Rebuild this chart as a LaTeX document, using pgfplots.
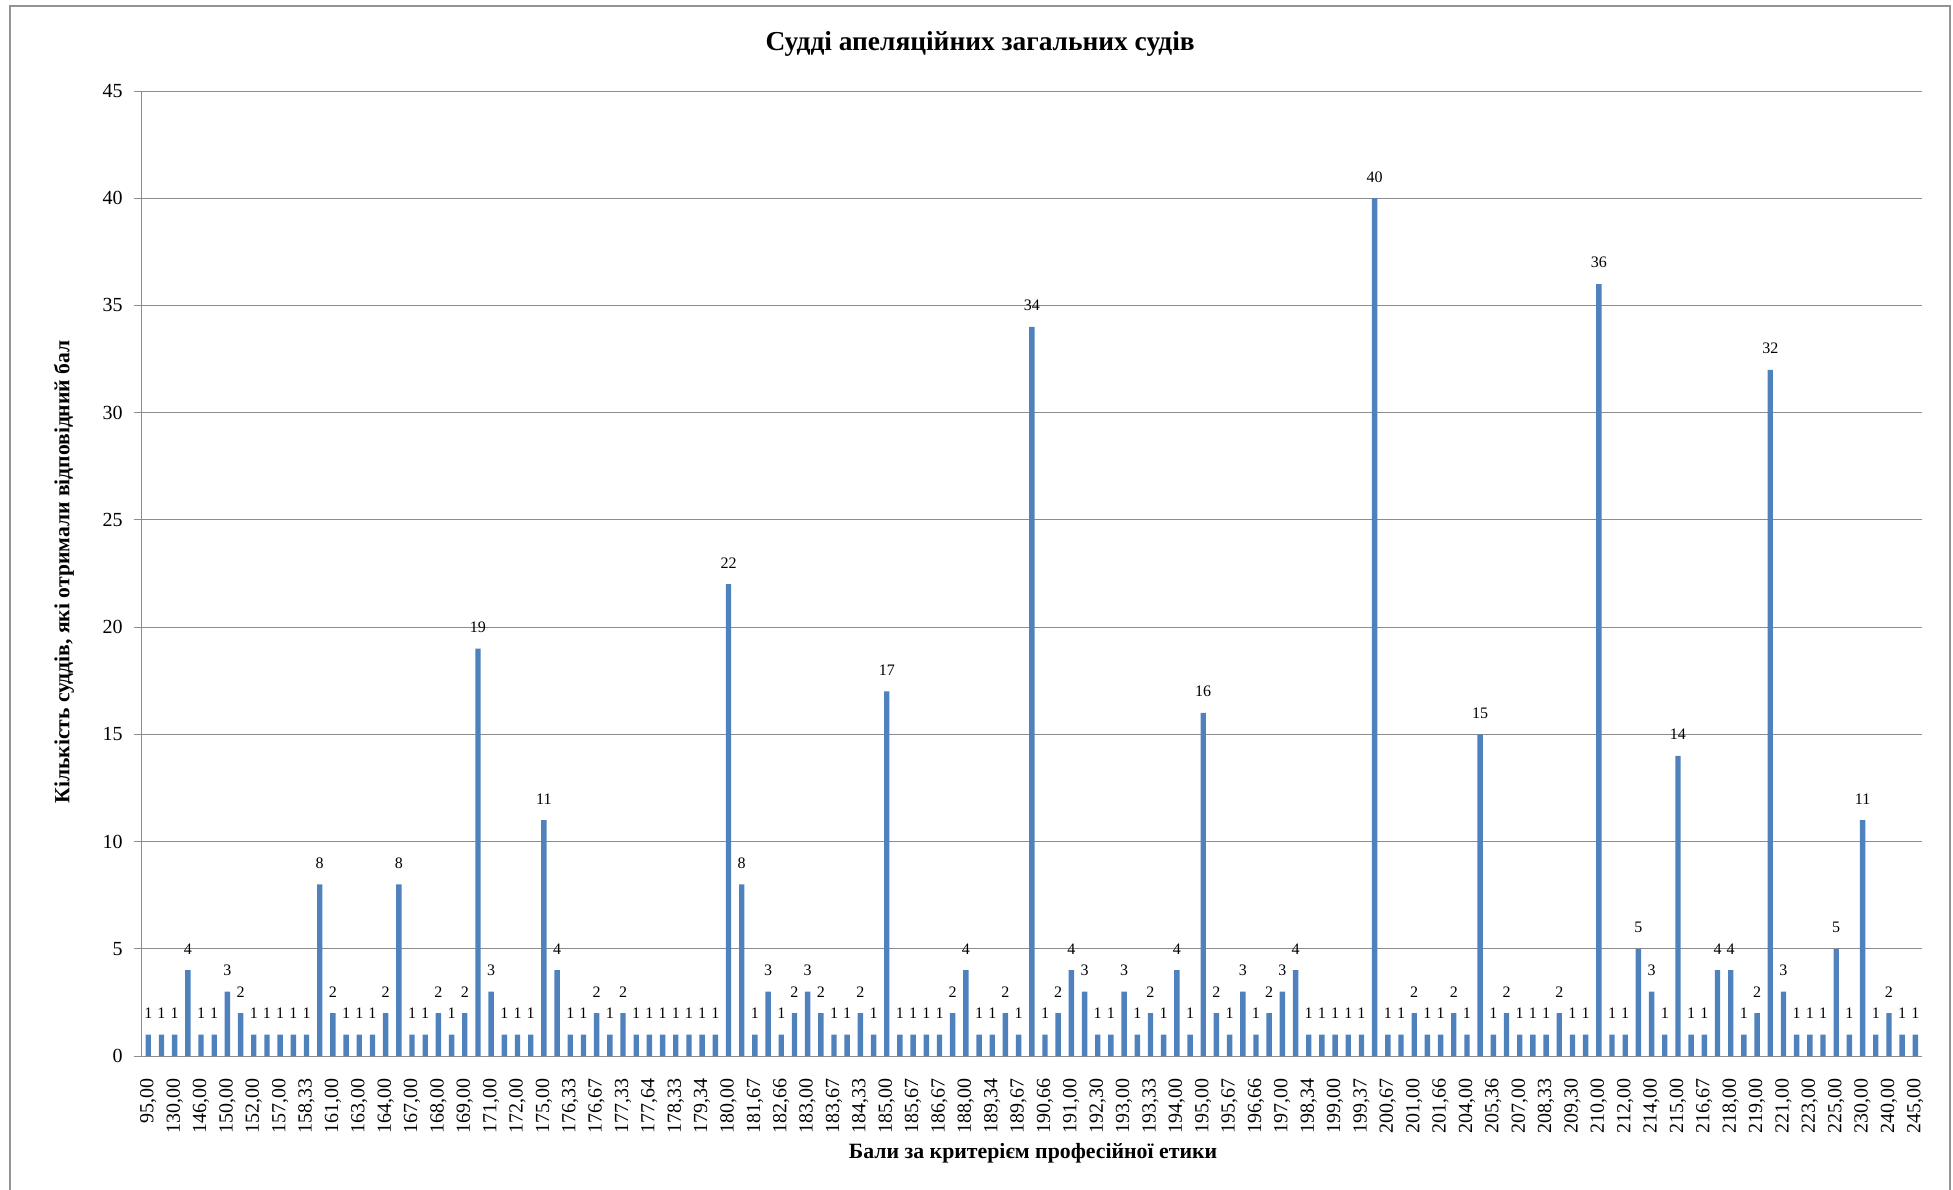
\documentclass[border=0pt]{standalone}
\usepackage{fontspec}
\setmainfont{Liberation Serif}
\usepackage{pgfplots}
\usepackage{pgfplotstable}
\pgfplotsset{compat=1.18}
\definecolor{barblue}{HTML}{4F81BD}
\definecolor{gridgray}{HTML}{8C8C8C}
\pgfplotstableread{
x y
1 1
2 1
3 1
4 4
5 1
6 1
7 3
8 2
9 1
10 1
11 1
12 1
13 1
14 8
15 2
16 1
17 1
18 1
19 2
20 8
21 1
22 1
23 2
24 1
25 2
26 19
27 3
28 1
29 1
30 1
31 11
32 4
33 1
34 1
35 2
36 1
37 2
38 1
39 1
40 1
41 1
42 1
43 1
44 1
45 22
46 8
47 1
48 3
49 1
50 2
51 3
52 2
53 1
54 1
55 2
56 1
57 17
58 1
59 1
60 1
61 1
62 2
63 4
64 1
65 1
66 2
67 1
68 34
69 1
70 2
71 4
72 3
73 1
74 1
75 3
76 1
77 2
78 1
79 4
80 1
81 16
82 2
83 1
84 3
85 1
86 2
87 3
88 4
89 1
90 1
91 1
92 1
93 1
94 40
95 1
96 1
97 2
98 1
99 1
100 2
101 1
102 15
103 1
104 2
105 1
106 1
107 1
108 2
109 1
110 1
111 36
112 1
113 1
114 5
115 3
116 1
117 14
118 1
119 1
120 4
121 4
122 1
123 2
124 32
125 3
126 1
127 1
128 1
129 5
130 1
131 11
132 1
133 2
134 1
135 1
}\data
\begin{document}
\begin{tikzpicture}
\path[use as bounding box] (0,0) rectangle (976.5pt,-594.5pt);
\draw[gray!85, line width=1.1pt] (5pt,-600pt) -- (5pt,-3pt) -- (975pt,-3pt) -- (975pt,-600pt);
\begin{axis}[
  scale only axis, width=890.1pt, height=482.5pt,
  at={(70.85pt,-528pt)}, anchor=south west,
  ymin=0, ymax=45, ytick={0,5,...,45},
  xmin=0.5, xmax=135.5,
  xtick={1,3,...,135},
  xticklabels={{95,00},{130,00},{146,00},{150,00},{152,00},{157,00},{158,33},{161,00},{163,00},{164,00},{167,00},{168,00},{169,00},{171,00},{172,00},{175,00},{176,33},{176,67},{177,33},{177,64},{178,33},{179,34},{180,00},{181,67},{182,66},{183,00},{183,67},{184,33},{185,00},{185,67},{186,67},{188,00},{189,34},{189,67},{190,66},{191,00},{192,30},{193,00},{193,33},{194,00},{195,00},{195,67},{196,66},{197,00},{198,34},{199,00},{199,37},{200,67},{201,00},{201,66},{204,00},{205,36},{207,00},{208,33},{209,30},{210,00},{212,00},{214,00},{215,00},{216,67},{218,00},{219,00},{221,00},{223,00},{225,00},{230,00},{240,00},{245,00}},
  ybar, bar width=2.7pt, bar shift=0pt,
  ymajorgrids, grid style={gridgray, line width=0.5pt},
  axis x line*=bottom, axis y line*=left,
  axis line style={gridgray, line width=0.5pt},
  ytick style={gridgray, line width=0.5pt},
  major tick length=4pt, tick align=outside,
  xtick style={draw=none},
  xticklabel shift=3.5pt,
  yticklabel shift=2pt,
  x tick label style={rotate=90, anchor=east, font=\fontsize{10}{12}\selectfont},
  y tick label style={font=\fontsize{10}{12}\selectfont},
  nodes near coords,
  every node near coord/.append style={font=\fontsize{8}{9}\selectfont, yshift=4.5pt, text=black},
  /pgf/number format/assume math mode=true,
  every axis title shift=0pt,
  title={Судді апеляційних загальних судів},
  title style={at={(axis description cs:0.471,1.0487)}, anchor=center, yshift=0pt, font=\bfseries\fontsize{13.7}{16}\selectfont},
  xlabel={Бали за критерієм професійної етики},
  xlabel style={at={(axis description cs:0.5007,-0.1005)}, anchor=center, font=\bfseries\fontsize{10.9}{13}\selectfont},
  ylabel={Кількість суддів, які отримали відповідний бал},
  ylabel style={at={(axis description cs:-0.0436,0.5016)}, anchor=center, font=\bfseries\fontsize{10.8}{13}\selectfont},
]
\addplot[fill=barblue, draw=none] table[x=x, y=y] {\data};
\end{axis}
\end{tikzpicture}
\end{document}
